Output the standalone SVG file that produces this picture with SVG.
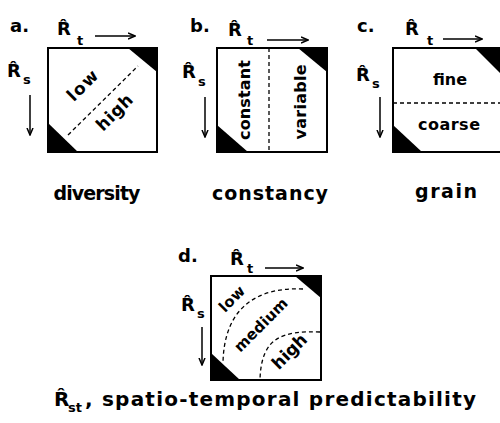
<svg xmlns="http://www.w3.org/2000/svg" width="500" height="423" viewBox="0 0 500 423">
<style>
text{font-family:"DejaVu Sans","Liberation Sans",sans-serif;font-weight:bold;fill:#000}
.lab{font-size:18px}
.sub{font-size:13px}
.cap{font-size:19px;text-anchor:middle}
.in{font-size:16px;text-anchor:middle}
.box{fill:#fff;stroke:#000;stroke-width:2}
.tri{fill:#000}
.dash{fill:none;stroke:#000;stroke-width:1.3;stroke-dasharray:4 3}
.arr{stroke:#000;stroke-width:1.5;fill:none;marker-end:url(#ah)}
</style>
<defs>
<marker id="ah" viewBox="0 0 8 8" refX="7" refY="4" markerWidth="8" markerHeight="8" markerUnits="userSpaceOnUse" orient="auto">
<path d="M0,1 L7,4 L0,7" fill="none" stroke="#000" stroke-width="1.5"/>
</marker>
</defs>
<rect width="500" height="423" fill="#fff"/>

<g id="panel-a">
<text class="lab" x="10" y="32">a.</text>
<text class="lab" x="57" y="35">R&#770;</text><text class="sub" x="77" y="45">t</text>
<text class="lab" x="7" y="77">R&#770;</text><text class="sub" x="23" y="84">s</text>
<rect class="box" x="48" y="48" width="109" height="104"/>
<path class="tri" d="M128,48 L157,48 L157,72 Z"/>
<path class="tri" d="M48,123 L48,152 L78,152 Z"/>
<path class="dash" d="M68,135 L138,66"/>
<text class="in" transform="translate(83,86) rotate(-45)" y="5" style="font-size:17px" textLength="36">low</text>
<text class="in" transform="translate(115,113) rotate(-45)" y="5" style="font-size:17px" textLength="44">high</text>
<text class="cap" x="97" y="200" textLength="87">diversity</text>
</g>

<g id="panel-b">
<text class="lab" x="190" y="32">b.</text>
<text class="lab" x="228" y="36">R&#770;</text><text class="sub" x="247" y="45">t</text>
<text class="lab" x="182" y="78">R&#770;</text><text class="sub" x="198" y="86">s</text>
<rect class="box" x="217" y="48" width="110" height="104"/>
<path class="tri" d="M298,48 L327,48 L327,72 Z"/>
<path class="tri" d="M217,125 L217,152 L248,152 Z"/>
<path class="dash" d="M269,48 L269,152"/>
<text class="in" transform="translate(245,100) rotate(-90)" y="5" textLength="80">constant</text>
<text class="in" transform="translate(301,102) rotate(-90)" y="5" textLength="75">variable</text>
<text class="cap" x="270" y="200" textLength="116">constancy</text>
</g>

<g id="panel-c">
<text class="lab" x="357" y="32">c.</text>
<text class="lab" x="405" y="35">R&#770;</text><text class="sub" x="427" y="45">t</text>
<text class="lab" x="356" y="81">R&#770;</text><text class="sub" x="372" y="88">s</text>
<rect class="box" x="393" y="48" width="109" height="104"/>
<path class="tri" d="M475,48 L502,48 L502,75 Z"/>
<path class="tri" d="M393,125 L393,152 L422,152 Z"/>
<path class="dash" d="M393,103 L502,103"/>
<text class="in" x="450" y="85" textLength="34">fine</text>
<text class="in" x="449" y="130" textLength="62">coarse</text>
<text class="cap" x="446" y="198" textLength="62">grain</text>
</g>

<g id="panel-d">
<text class="lab" x="178" y="262">d.</text>
<text class="lab" x="230" y="265">R&#770;</text><text class="sub" x="247" y="273">t</text>
<text class="lab" x="181" y="311">R&#770;</text><text class="sub" x="197" y="318">s</text>
<rect class="box" x="211" y="276" width="110" height="104"/>
<path class="tri" d="M295,276 L321,276 L321,298 Z"/>
<path class="tri" d="M211,353 L211,380 L240,380 Z"/>
<path class="dash" d="M303,289 C260,287 224,305 223,363"/>
<path class="dash" d="M320,332 C285,331 261,335 260,380"/>
<text class="in" transform="translate(232,299) rotate(-45)" y="5" style="font-size:15px" textLength="30">low</text>
<text class="in" transform="translate(261,325) rotate(-45)" y="5" style="font-size:15px" textLength="69">medium</text>
<text class="in" transform="translate(290,352) rotate(-45)" y="5" style="font-size:17px" textLength="42">high</text>
</g>

<g id="title">
<text x="54" y="406" style="font-size:20px">R&#770;</text>
<text class="sub" x="68" y="412">st</text>
<text x="85" y="406" style="font-size:20px" textLength="391">, spatio-temporal predictability</text>
</g>

<g id="connectors">
<path class="arr" d="M95,36 L135,36"/>
<path class="arr" d="M30,95 L30,135"/>
<path class="arr" d="M267,40 L308,40"/>
<path class="arr" d="M205,97 L205,137"/>
<path class="arr" d="M443,39 L482,39"/>
<path class="arr" d="M380,97 L380,137"/>
<path class="arr" d="M265,268 L303,268"/>
<path class="arr" d="M202,327 L202,365"/>
</g>
</svg>
